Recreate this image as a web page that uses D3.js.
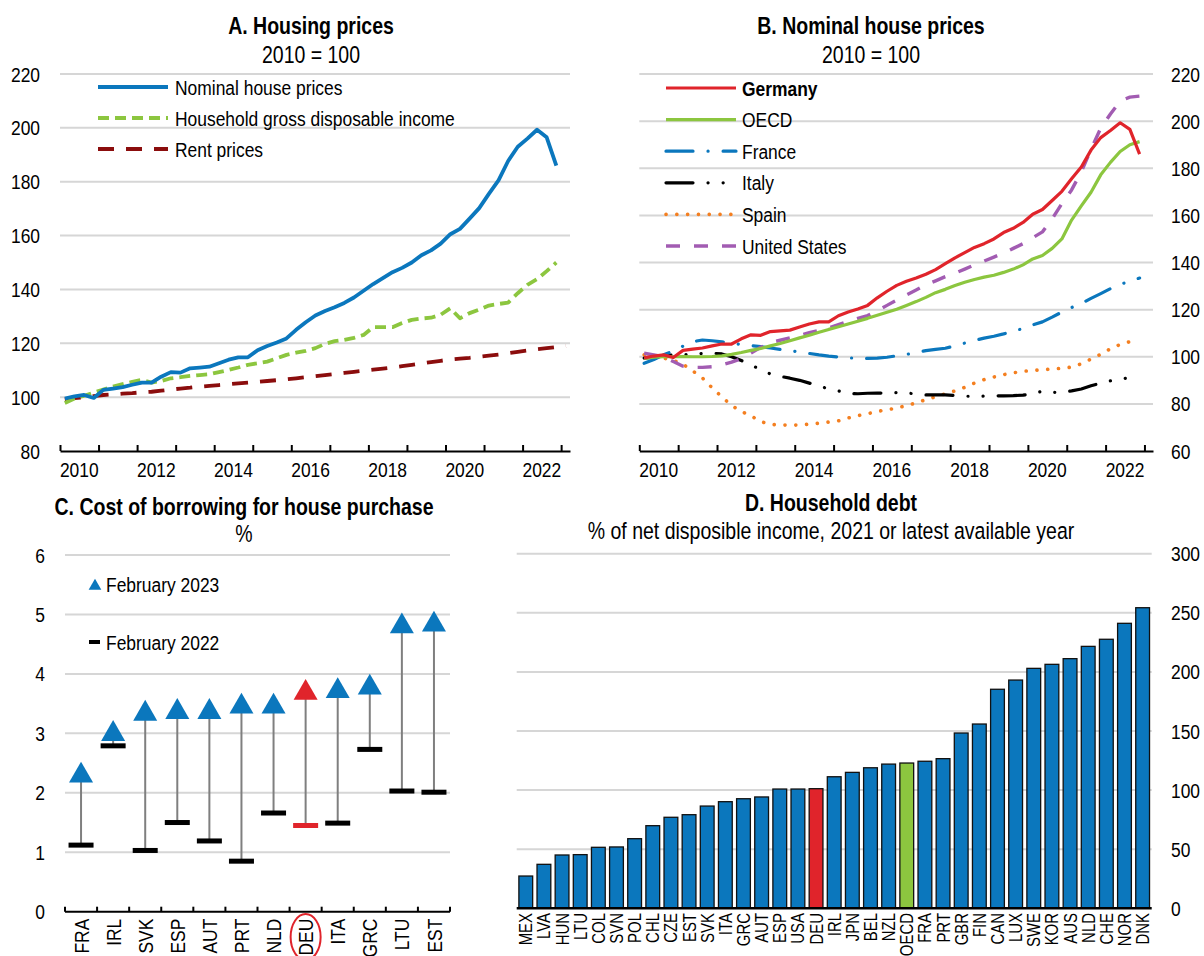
<!DOCTYPE html>
<html>
<head>
<meta charset="utf-8">
<script src="https://cdn.jsdelivr.net/npm/d3@7"></script>
<style>
body { margin: 0; background: #fff; }
text { font-family: 'Liberation Sans', Arial, sans-serif; fill: #000; }
</style>
</head>
<body>
<div id="chart"></div>
<script>
// ---- Data ----
// quarterly, 2010Q1 onwards
var germanyHP = [99.5,100.3,100.8,99.7,102.7,103.2,103.7,104.6,105.4,105.4,
	107.6,109.3,109.1,110.7,111.0,111.3,112.6,113.9,114.8,114.8,
	117.4,119.0,120.3,121.8,125.0,127.8,130.3,132.0,133.4,135.0,
	137.0,139.5,142.0,144.2,146.4,148.0,150.0,152.7,154.5,157.0,
	160.5,162.5,166.3,170.2,175.5,180.5,187.7,193.0,196.0,199.3,
	196.5,186.0];
var incomeHH = [97.8,99.5,100.5,101.7,102.8,103.9,104.8,105.7,106.4,105.4,
	106.0,107.0,107.4,107.9,108.2,108.5,109.3,110.1,111.0,112.0,
	112.6,113.2,114.4,115.7,116.5,117.2,118.2,119.8,120.8,121.3,
	122.0,123.1,126.0,126.0,126.0,127.5,128.7,129.2,129.5,130.6,
	133.0,129.3,131.2,132.5,134.0,134.6,135.1,138.6,141.7,143.8,
	146.8,150.0];
var rentPrices = [99.2,99.6,100.0,100.4,100.8,101.0,101.3,101.5,101.8,102.0,
	102.4,102.8,103.2,103.5,103.9,104.2,104.5,104.8,105.1,105.4,
	105.7,106.0,106.3,106.6,107.0,107.4,107.8,108.2,108.6,109.0,
	109.4,109.8,110.2,110.6,111.0,111.5,112.0,112.5,113.0,113.5,
	114.0,114.3,114.6,115.0,115.4,115.8,116.3,116.8,117.3,117.8,
	118.2,118.6,119.0];
var oecdHP = [99.3,99.8,100.0,100.0,100.1,100.0,100.0,100.1,100.4,101.0,
	101.8,102.7,103.5,104.6,105.6,106.8,108.0,109.1,110.4,111.6,
	112.7,113.9,115.1,116.3,117.6,118.9,120.2,121.8,123.4,125.2,
	127.2,128.6,130.2,131.6,132.8,133.8,134.6,135.8,137.2,139.0,
	141.5,143.0,146.0,150.0,158.0,164.0,169.8,177.2,182.5,187.1,
	190.0,191.3];
var franceHP = [97.2,98.8,100.8,102.4,104.5,106.4,107.1,106.8,106.3,105.7,
	105.2,104.7,104.3,103.7,103.1,102.6,102.0,101.4,100.8,100.3,
	99.9,99.5,99.4,99.3,99.4,99.8,100.4,101.0,101.8,102.6,
	103.1,103.6,104.6,105.8,106.9,107.9,108.7,109.7,110.8,112.0,
	113.5,114.8,116.8,119.0,120.9,122.6,124.8,126.8,128.9,130.6,
	132.2,133.4];
var italyHP = [99.4,99.8,100.4,100.8,100.9,101.0,101.4,101.5,101.2,100.0,
	98.4,96.6,94.4,92.7,91.7,90.9,90.0,88.8,87.5,86.4,
	85.5,84.4,84.3,84.5,84.6,84.6,84.8,84.6,84.2,83.8,
	83.8,83.8,83.6,83.3,83.1,83.3,83.4,83.4,83.5,83.7,
	84.3,85.4,84.9,84.9,85.5,86.3,87.7,88.8,89.8,90.7,
	91.0,90.9];
var spainHP = [100.8,100.2,99.4,98.5,96.8,94.0,91.0,86.8,83.0,79.3,
	76.8,74.9,72.5,71.3,71.0,71.0,71.0,71.4,71.8,72.3,
	72.8,74.0,75.0,75.8,76.8,77.5,78.2,79.3,80.4,81.8,
	83.0,84.3,85.5,87.0,88.8,90.3,91.4,92.4,93.2,93.8,
	94.2,94.5,94.8,95.1,95.6,97.0,99.0,101.0,103.4,105.2,
	106.4];
var usHP = [101.5,100.8,99.9,98.0,96.0,95.5,95.5,95.8,96.5,97.7,
	99.2,101.6,104.0,106.0,107.0,108.0,109.0,110.2,111.2,112.3,
	113.6,115.0,116.3,117.5,119.5,121.8,124.0,126.2,128.3,130.5,
	132.2,134.0,135.5,137.2,139.0,140.6,142.3,144.0,146.0,148.0,
	150.5,153.0,158.5,165.0,170.8,178.5,188.0,197.0,203.0,208.5,
	210.2,210.6];

var borrowCountries = ["FRA","IRL","SVK","ESP","AUT","PRT","NLD","DEU","ITA","GRC","LTU","EST"];
var borrowFeb2023 = [2.29,2.99,3.33,3.36,3.36,3.45,3.45,3.68,3.71,3.77,4.80,4.83];
var borrowFeb2022 = [1.12,2.79,1.03,1.50,1.19,0.85,1.66,1.45,1.49,2.73,2.03,2.01];

var debtCountries = ["MEX","LVA","HUN","LTU","COL","SVN","POL","CHL","CZE","EST","SVK","ITA","GRC","AUT","ESP","USA","DEU","IRL","JPN","BEL","NZL","OECD","FRA","PRT","GBR","FIN","CAN","LUX","SWE","KOR","AUS","NLD","CHE","NOR","DNK"];
var debtValues = [27.3,37.2,45.1,45.4,51.6,51.9,58.9,69.9,77.0,79.2,86.5,90.2,92.7,94.2,100.9,100.9,101.2,111.3,115.0,118.9,122.0,122.9,124.4,126.6,148.3,155.9,185.3,193.1,203.0,206.4,211.2,221.6,227.6,241.1,254.3];

var yearLabels = [2010,2012,2014,2016,2018,2020,2022];

// ---- Colours ----
var cBlue = "#0b77bd", cGreen = "#8cc63f", cRed = "#e0242b", cDarkRed = "#8b0d0d",
	cOrange = "#f47f20", cPurple = "#a25cb2", cGrid = "#d6d6d6";

var SX = 0.83;  // narrow the sans font, like Arial Narrow
var titleSize = 23.5;

var w = 1204, h = 956;
var svg = d3.select("#chart").append("svg")
	.attr("width", w)
	.attr("height", h)
	.style("background", "#fff");

function qTime(i) { return 2010 + (i + 0.5) / 4; }

// position text with a narrowing transform
function place(x, y, rot) {
	return "translate(" + x + "," + y + ")" + (rot ? " rotate(" + rot + ")" : "") + " scale(" + SX + ",1)";
}

function label(g, x, y, str, size, anchor, bold) {
	return g.append("text")
		.attr("transform", place(x, y))
		.attr("text-anchor", anchor || "start")
		.attr("font-size", size)
		.attr("font-weight", bold ? "bold" : null)
		.text(str);
}

function title(x, y1, t1, y2, t2) {
	label(svg, x, y1, t1, titleSize, "middle", true);
	label(svg, x, y2, t2, titleSize, "middle");
}

function grid(g, yScale, ticks, x0, x1) {
	g.selectAll(".grid").data(ticks).enter().append("line")
		.attr("x1", x0).attr("x2", x1)
		.attr("y1", function(d) { return yScale(d); })
		.attr("y2", function(d) { return yScale(d); })
		.attr("stroke", cGrid).attr("stroke-width", 2);
}

function yLabels(g, yScale, ticks, x, anchor) {
	g.selectAll(".ylab").data(ticks).enter().append("text")
		.attr("transform", function(d) { return place(x, yScale(d)); })
		.attr("dy", "0.36em")
		.attr("text-anchor", anchor)
		.attr("font-size", 21)
		.text(function(d) { return d; });
}

function timeAxis(g, xScale, yPix) {
	var axis = d3.axisTop(xScale)
		.tickValues(d3.range(2010, 2024))
		.tickSize(6)
		.tickSizeOuter(0)
		.tickFormat("");
	var ga = g.append("g").attr("transform", "translate(0," + yPix + ")").call(axis);
	ga.select(".domain").attr("stroke", "#000").attr("stroke-width", 2);
	ga.selectAll(".tick line").attr("stroke", "#000").attr("stroke-width", 2);
	g.selectAll(".xlab").data(yearLabels).enter().append("text")
		.attr("transform", function(d) { return place(xScale(d + 0.5), yPix + 26); })
		.attr("text-anchor", "middle")
		.attr("font-size", 21)
		.text(function(d) { return d; });
}

function drawSeries(g, xScale, yScale, s) {
	var line = d3.line()
		.x(function(d, i) { return xScale(qTime(i)); })
		.y(function(d) { return yScale(d); });
	g.append("path")
		.datum(s.values)
		.attr("d", line)
		.attr("fill", "none")
		.attr("stroke", s.color)
		.attr("stroke-width", s.width)
		.attr("stroke-dasharray", s.dash)
		.attr("stroke-linecap", s.cap || "butt")
		.attr("stroke-linejoin", "round");
}

function legend(g, items, x0, x1, tx, y0, dy) {
	items.forEach(function(s, i) {
		var y = y0 + i * dy;
		g.append("line").attr("x1", x0).attr("x2", x1).attr("y1", y).attr("y2", y)
			.attr("stroke", s.color).attr("stroke-width", s.width)
			.attr("stroke-dasharray", s.dash).attr("stroke-linecap", s.cap || "butt");
		label(g, tx, y, s.name, 21, "start", s.bold).attr("dy", "0.36em");
	});
}

// ---- Panel A ----
var gA = svg.append("g");
var xA = d3.scaleLinear().domain([2010, 2023.23]).range([60, 570]);
var yA = d3.scaleLinear().domain([80, 220]).range([451, 74]);
title(311, 34, "A. Housing prices", 63, "2010 = 100");
grid(gA, yA, [100, 120, 140, 160, 180, 200, 220], 60, 570);
yLabels(gA, yA, [80, 100, 120, 140, 160, 180, 200, 220], 40, "end");
var seriesA = [
	{ name: "Nominal house prices", values: germanyHP, color: cBlue, width: 3.8, dash: null },
	{ name: "Household gross disposable income", values: incomeHH, color: cGreen, width: 3.8, dash: "11,6" },
	{ name: "Rent prices", values: rentPrices, color: cDarkRed, width: 3.8, dash: "16,12" }
];
drawSeries(gA, xA, yA, seriesA[2]);
drawSeries(gA, xA, yA, seriesA[1]);
drawSeries(gA, xA, yA, seriesA[0]);
timeAxis(gA, xA, 451);
legend(gA, seriesA, 98, 168, 175, 87, 31);

// ---- Panel B ----
var gB = svg.append("g");
var xB = d3.scaleLinear().domain([2010, 2023.22]).range([639.3, 1153]);
var yB = d3.scaleLinear().domain([60, 220]).range([451, 74]);
title(871, 34, "B. Nominal house prices", 63, "2010 = 100");
grid(gB, yB, [80, 100, 120, 140, 160, 180, 200, 220], 639.3, 1153);
yLabels(gB, yB, [60, 80, 100, 120, 140, 160, 180, 200, 220], 1171, "start");
var seriesB = [
	{ name: "Germany", values: germanyHP, color: cRed, width: 3.2, dash: null, bold: true },
	{ name: "OECD", values: oecdHP, color: cGreen, width: 3.2, dash: null },
	{ name: "France", values: franceHP, color: cBlue, width: 3.2, dash: "27,15,0.1,15", cap: "round" },
	{ name: "Italy", values: italyHP, color: "#000", width: 3.2, dash: "27,15,0.1,15,0.1,15", cap: "round" },
	{ name: "Spain", values: spainHP, color: cOrange, width: 3.6, dash: "0.1,10.7", cap: "round" },
	{ name: "United States", values: usHP, color: cPurple, width: 3.4, dash: "14,14" }
];
[4, 3, 2, 5, 1, 0].forEach(function(k) { drawSeries(gB, xB, yB, seriesB[k]); });
timeAxis(gB, xB, 451);
legend(gB, seriesB, 666, 736, 742, 88, 31.6);

// ---- Panel C ----
var gC = svg.append("g");
var xC = d3.scaleBand().domain(borrowCountries).range([65, 450]);
var yC = d3.scaleLinear().domain([0, 6]).range([911.7, 555]);
title(244, 515, "C. Cost of borrowing for house purchase", 542, "%");
grid(gC, yC, [1, 2, 3, 4, 5, 6], 65, 450);
yLabels(gC, yC, [0, 1, 2, 3, 4, 5, 6], 45, "end");

var borrow = borrowCountries.map(function(c, i) {
	return { iso: c, y23: borrowFeb2023[i], y22: borrowFeb2022[i] };
});
var cx = function(d) { return xC(d.iso) + xC.bandwidth() / 2; };

gC.selectAll(".conn").data(borrow).enter().append("line")
	.attr("x1", cx).attr("x2", cx)
	.attr("y1", function(d) { return yC(d.y22); })
	.attr("y2", function(d) { return yC(d.y23) - 8; })
	.attr("stroke", "#7f7f7f").attr("stroke-width", 2);
gC.selectAll(".feb22").data(borrow).enter().append("rect")
	.attr("x", function(d) { return cx(d) - 12.5; })
	.attr("y", function(d) { return yC(d.y22) - 2.5; })
	.attr("width", 25).attr("height", 5)
	.attr("fill", function(d) { return d.iso == "DEU" ? cRed : "#000"; });
var tri = d3.symbol().type(d3.symbolTriangle).size(250);
gC.selectAll(".feb23").data(borrow).enter().append("path")
	.attr("d", tri)
	.attr("transform", function(d) { return "translate(" + cx(d) + "," + yC(d.y23) + ")"; })
	.attr("fill", function(d) { return d.iso == "DEU" ? cRed : cBlue; });

var axC = gC.append("g").attr("transform", "translate(0,911.7)");
axC.append("line").attr("x1", 65).attr("x2", 450).attr("y1", 0).attr("y2", 0)
	.attr("stroke", "#000").attr("stroke-width", 2);
axC.selectAll(".tk").data(borrowCountries.concat(["end"])).enter().append("line")
	.attr("x1", function(d) { return d == "end" ? 450 : xC(d); })
	.attr("x2", function(d) { return d == "end" ? 450 : xC(d); })
	.attr("y1", 0).attr("y2", -5)
	.attr("stroke", "#000").attr("stroke-width", 2);
axC.selectAll(".xl").data(borrowCountries).enter().append("text")
	.attr("transform", function(d) { return place(xC(d) + xC.bandwidth() / 2, 7, -90); })
	.attr("dy", "0.36em")
	.attr("text-anchor", "end")
	.attr("font-size", 21)
	.text(function(d) { return d; });
gC.append("ellipse")
	.attr("cx", xC("DEU") + xC.bandwidth() / 2).attr("cy", 937)
	.attr("rx", 15).attr("ry", 23)
	.attr("fill", "none").attr("stroke", cRed).attr("stroke-width", 2);

// legend C
gC.append("path").attr("d", d3.symbol().type(d3.symbolTriangle).size(70))
	.attr("transform", "translate(95,586)").attr("fill", cBlue);
label(gC, 106, 584, "February 2023", 21).attr("dy", "0.36em");
gC.append("rect").attr("x", 89).attr("y", 640).attr("width", 11).attr("height", 4).attr("fill", "#000");
label(gC, 106, 642, "February 2022", 21).attr("dy", "0.36em");

// ---- Panel D ----
var gD = svg.append("g");
var xD = d3.scaleBand().domain(debtCountries).range([516.7, 1151.7]).paddingInner(0.24).paddingOuter(0.12);
var yD = d3.scaleLinear().domain([0, 300]).range([908.3, 553.7]);
title(831, 511, "D. Household debt", 539, "% of net disposible income, 2021 or latest available year");
grid(gD, yD, [50, 100, 150, 200, 250, 300], 516.7, 1151.7);
yLabels(gD, yD, [0, 50, 100, 150, 200, 250, 300], 1171, "start");

gD.selectAll(".bar").data(debtCountries).enter().append("rect")
	.attr("x", function(d) { return xD(d); })
	.attr("y", function(d, i) { return yD(debtValues[i]); })
	.attr("width", xD.bandwidth())
	.attr("height", function(d, i) { return yD(0) - yD(debtValues[i]); })
	.attr("fill", function(d) { return d == "DEU" ? cRed : (d == "OECD" ? cGreen : cBlue); })
	.attr("stroke", "#111").attr("stroke-width", 1.3);
gD.append("line").attr("x1", 516.7).attr("x2", 1151.7).attr("y1", 908.3).attr("y2", 908.3)
	.attr("stroke", "#000").attr("stroke-width", 2.5);
gD.selectAll(".xl").data(debtCountries).enter().append("text")
	.attr("transform", function(d) { return place(xD(d) + xD.bandwidth() / 2, 913, -90); })
	.attr("dy", "0.36em")
	.attr("text-anchor", "end")
	.attr("font-size", 18)
	.text(function(d) { return d; });
</script>
</body>
</html>
